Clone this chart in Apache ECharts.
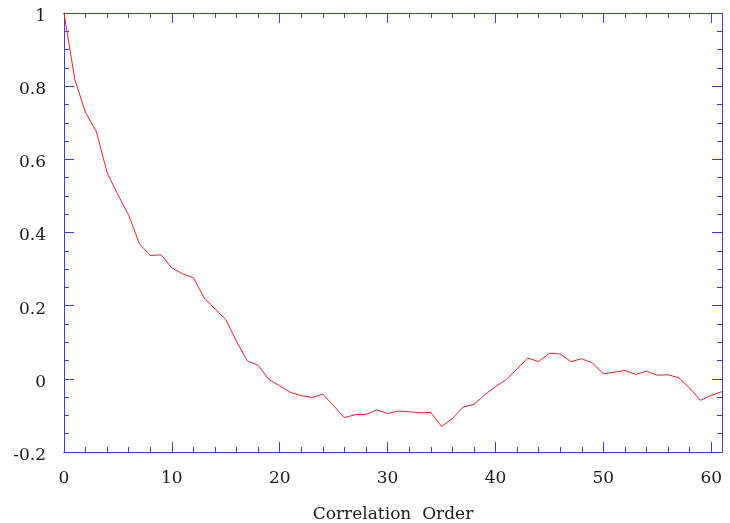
<!DOCTYPE html>
<html>
<head>
<meta charset="utf-8">
<script src="https://cdn.jsdelivr.net/npm/echarts@6/dist/echarts.min.js"></script>
<style>
html,body{margin:0;padding:0;background:#fff;}
#chart{width:730px;height:523px;}
</style>
</head>
<body>
<div id="chart"></div>
<script>
const lags = [0,1,2,3,4,5,6,7,8,9,10,11,12,13,14,15,16,17,18,19,20,21,22,23,24,25,26,27,28,29,30,
  31,32,33,34,35,36,37,38,39,40,41,42,43,44,45,46,47,48,49,50,51,52,53,54,55,56,57,58,59,60,61];
const correlation = [1.000,0.818,0.728,0.676,0.563,0.503,0.447,0.369,0.337,0.339,0.303,
  0.287,0.276,0.221,0.191,0.162,0.102,0.049,0.037,-0.002,-0.019,
  -0.037,-0.046,-0.051,-0.042,-0.074,-0.106,-0.098,-0.097,-0.085,-0.095,
  -0.088,-0.090,-0.093,-0.092,-0.130,-0.109,-0.077,-0.070,-0.044,-0.021,
  -0.002,0.027,0.057,0.047,0.070,0.068,0.047,0.055,0.043,0.014,
  0.018,0.023,0.012,0.021,0.010,0.011,0.003,-0.025,-0.059,-0.045,-0.035];
const xLabelTicks = [0,10,20,30,40,50,60];
const yLabelTicks = [-0.2,0,0.2,0.4,0.6,0.8,1];
const xTitle = 'Correlation  Order';

const AXIS = '#3b3bd8';
const FONT = 'DejaVu Serif';
const TXT = '#1a1a1a';

function xAx(pos, interval, len, withLabels) {
  return {
    type: 'value', position: pos, min: 0, max: 61, interval: interval,
    axisLine: {show: true, onZero: false, lineStyle: {color: AXIS, width: 1}},
    axisTick: {show: true, inside: true, length: len, lineStyle: {color: AXIS, width: 1}},
    splitLine: {show: false},
    axisLabel: withLabels ? {
      show: true, margin: 18, color: TXT, fontFamily: FONT, fontSize: 17,
      showMaxLabel: false,
      formatter: v => xLabelTicks.indexOf(v) >= 0 ? String(v) : ''
    } : {show: false},
    name: withLabels ? xTitle : '',
    nameLocation: 'middle', nameGap: 54,
    nameTextStyle: {color: TXT, fontFamily: FONT, fontSize: 17}
  };
}
function yAx(pos, withLabels) {
  return {
    type: 'value', position: pos, min: -0.2, max: 1, interval: 0.2,
    axisLine: {show: true, onZero: false, lineStyle: {color: AXIS, width: 1}},
    axisTick: {show: true, inside: true, length: 10, lineStyle: {color: AXIS, width: 1}},
    minorTick: {show: true, splitNumber: 4, length: 5, lineStyle: {color: AXIS, width: 1}},
    splitLine: {show: false},
    minorSplitLine: {show: false},
    axisLabel: withLabels ? {
      show: true, margin: 18, color: TXT, fontFamily: FONT, fontSize: 17,
      rich: {
        lab: {color: TXT, fontFamily: FONT, fontSize: 17, padding: [7, 0, 0, 0]}
      },
      formatter: v => {
        const r = Math.round(v * 100) / 100;
        return yLabelTicks.indexOf(r) >= 0 ? '{lab|' + String(r) + '}' : '';
      }
    } : {show: false}
  };
}

const chart = echarts.init(document.getElementById('chart'), null, {renderer: 'canvas'});
chart.setOption({
  animation: false,
  backgroundColor: '#fff',
  grid: {left: 64, right: 8, top: 13, bottom: 71, containLabel: false, outerBoundsMode: 'none'},
  xAxis: [
    xAx('bottom', 10, 10, true),
    xAx('bottom', 2, 5, false),
    xAx('top', 10, 10, false),
    xAx('top', 2, 5, false)
  ],
  yAxis: [yAx('left', true), yAx('right', false)],
  series: [{
    type: 'line', xAxisIndex: 0, yAxisIndex: 0,
    data: lags.map((l, i) => [l, correlation[i]]),
    showSymbol: false, symbol: 'none',
    lineStyle: {color: '#e3222a', width: 1},
    clip: true
  }]
});
</script>
</body>
</html>
